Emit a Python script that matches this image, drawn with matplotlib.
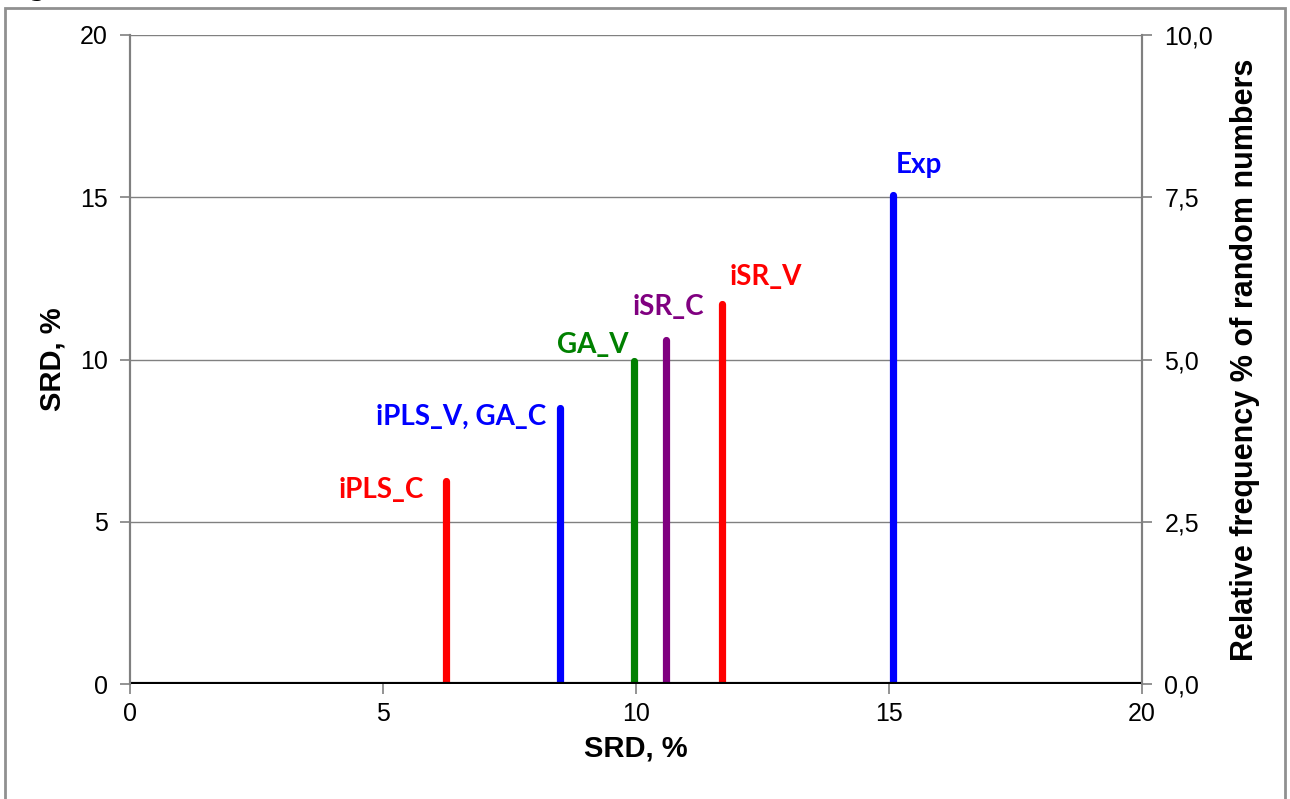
import matplotlib.pyplot as plt
from matplotlib.patches import Rectangle
from matplotlib.ticker import FuncFormatter

# SRD values of each model (x position and height of the line are the same)
names = ['iPLS_C', 'iPLS_V, GA_C', 'GA_V', 'iSR_C', 'iSR_V', 'Exp']
srd = [6.25, 8.5, 9.95, 10.6, 11.7, 15.07]
colors = ['#ff0000', '#0000ff', '#008000', '#800080', '#ff0000', '#0000ff']

# label placement (baseline offset in pixels from the top of each line, alignment)
offsets = [(-22, -17), (-14, -17), (-5, 8), (2, 25), (8, 19), (3, 22)]
aligns = ['right', 'right', 'right', 'center', 'left', 'left']

fig = plt.figure(figsize=(12.9, 7.99), dpi=100)
ax = fig.add_axes([0.1008, 0.1439, 0.7845, 0.8123])
ax2 = ax.twinx()

gray = '#808080'
lab_font = ['Liberation Sans', 'DejaVu Sans']
note_font = ['Lato', 'DejaVu Sans']

ax.set_xlim(0, 20)
ax.set_ylim(0, 20)
ax2.set_ylim(0, 10)
ax.set_xticks([0, 5, 10, 15, 20])
ax.set_yticks([0, 5, 10, 15, 20])
ax2.set_yticks([0, 2.5, 5, 7.5, 10])
ax2.yaxis.set_major_formatter(FuncFormatter(lambda v, p: f'{v:.1f}'.replace('.', ',')))

ax.yaxis.grid(True, color=gray, lw=1)
ax.set_axisbelow(True)

for a in (ax, ax2):
    a.spines['top'].set_visible(False)
    a.spines['bottom'].set_visible(False)
    a.spines['left'].set_color(gray)
    a.spines['right'].set_color(gray)
    a.spines['left'].set_linewidth(1.5)
    a.spines['right'].set_linewidth(1.5)
    a.tick_params(colors=gray, length=7, width=1.2, labelsize=18,
                  labelcolor='black', pad=6)
    for t in a.get_xticklabels() + a.get_yticklabels():
        t.set_fontfamily(lab_font)
ax.tick_params(axis='y', pad=9)
ax2.tick_params(axis='y', pad=9)

ax.axhline(0, color='black', lw=3, zorder=4)

for name, v, c, off, ha in zip(names, srd, colors, offsets, aligns):
    ax.plot([v, v], [0, v], color=c, lw=5.2, solid_capstyle='round', zorder=3)
    ax.annotate(name, xy=(v, v), xytext=off, textcoords='offset pixels',
                ha=ha, va='baseline', color=c, fontsize=20, fontweight='bold',
                family=note_font)

ax.set_xlabel('SRD, %', fontsize=21, fontweight='bold', family=lab_font, labelpad=6)
ax.set_ylabel('SRD, %', fontsize=21, fontweight='bold', family=lab_font, labelpad=10)
ax2.set_ylabel('Relative frequency % of random numbers', fontsize=22,
               fontweight='bold', family=lab_font, labelpad=12)

# outer frame of the cropped figure
fig.patches.append(Rectangle((5 / 1290, -0.02), 1280 / 1290, 1.02 - 8 / 799,
                             transform=fig.transFigure, fill=False,
                             edgecolor='#909090', lw=2))
fig.text(6 / 1290, 1 + 4 / 799, 'Fig', family='DejaVu Serif', fontweight='bold',
         fontsize=16, va='baseline')

fig.savefig('out.png', dpi=100)
